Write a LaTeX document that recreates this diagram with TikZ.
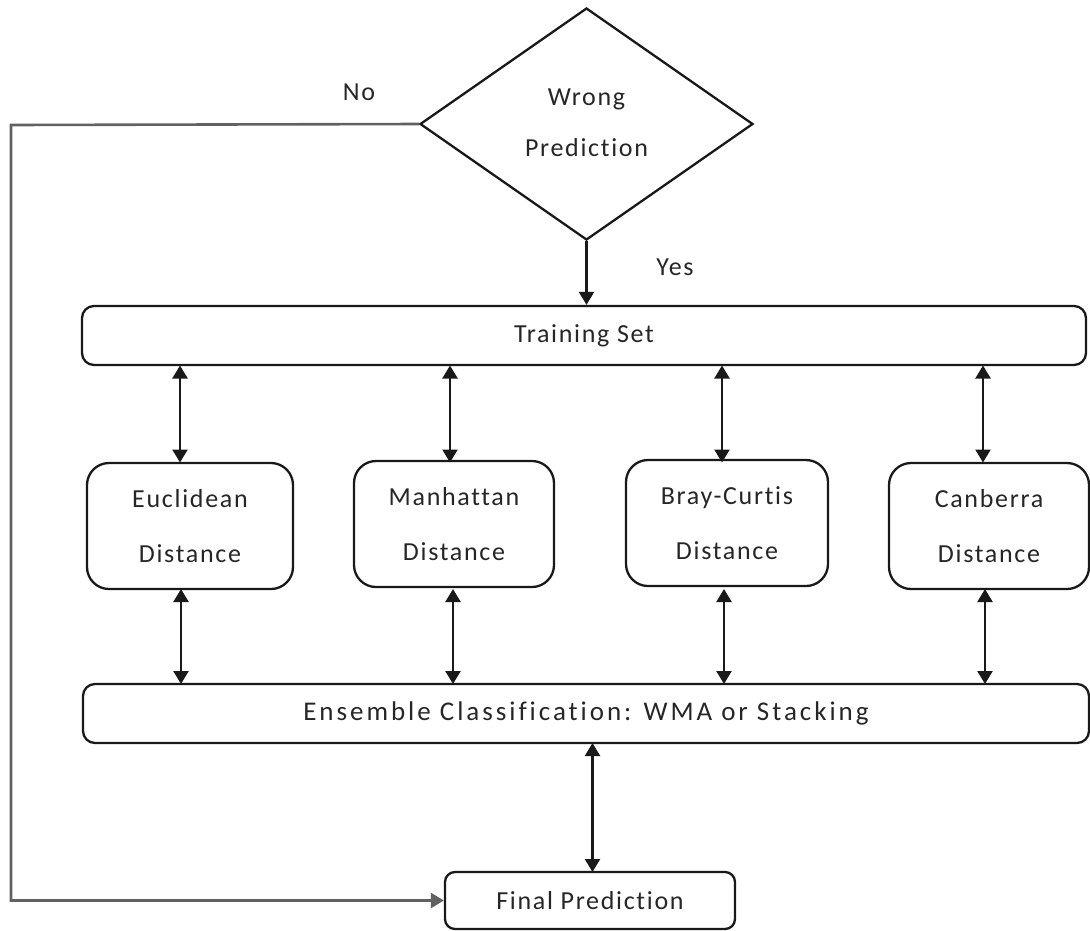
\documentclass[tikz,border=0pt]{standalone}
\usepackage{fontspec}
\setmainfont{Carlito}[LetterSpace=6.5, Ligatures={NoCommon}]
\usetikzlibrary{shapes.geometric,arrows.meta}
\begin{document}
\begin{tikzpicture}[x=1pt,y=-1pt,
  every node/.style={font=\fontsize{26}{55}\selectfont, text=black!85},
  ln/.style={line width=2.3pt, draw=black!90},
  tip/.style={-{Triangle[length=13pt,width=15pt]}},
  dtip/.style={{Triangle[length=13pt,width=15pt]}-{Triangle[length=13pt,width=15pt]}},
  wide/.style={ln, draw, rectangle, rounded corners=12pt, inner sep=0pt},
  dist/.style={ln, draw, rectangle, rounded corners=22pt, inner sep=0pt,
    minimum height=126pt, align=center},
  decision/.style={ln, draw, diamond, inner sep=0pt, align=center,
    minimum width=333pt, minimum height=232pt}
]
\useasboundingbox (0,0) rectangle (1090,930);

% decision
\node[decision] (wrong) at (586.5,124) {\raisebox{3pt}{\shortstack{Wrong\\[26pt]Prediction}}};

% boxes
\node[wide, minimum width=1004pt, minimum height=59pt] (train) at (584,335.5) {Training Set};
\node[dist, minimum width=206pt] (euc) at (190,526) {Euclidean\\Distance};
\node[dist, minimum width=200pt] (man) at (454,524) {Manhattan\\Distance};
\node[dist, minimum width=202pt] (bray) at (727,523) {Bray-Curtis\\Distance};
\node[dist, minimum width=200pt] (can) at (989,526) {Canberra\\Distance};
\node[wide, minimum width=1006pt, minimum height=59pt] (ens) at (586,713.5)
  {\addfontfeature{LetterSpace=11}\fontsize{27}{55}\selectfont Ensemble Classification: WMA or Stacking};
\node[wide, rounded corners=10pt, minimum width=290pt, minimum height=57pt] (final) at (590,900.5) {Final Prediction};

% labels
\node (no) at (359,92) {No};
\node (yes) at (675,267) {Yes};

% yes branch
\draw[ln, tip] (wrong.south) -- (wrong.south |- train.north);

% no branch
\coordinate (corner) at (11,125);
\draw[tip, line width=2.6pt, draw=black!62] (wrong.west) -- (corner) |- (final.west);

% training set <-> distances
\foreach \n/\x in {euc/180, man/450, bray/722, can/983}{
  \draw[ln, dtip] (\x,365.5) -- (\x,462.5);
}
% distances <-> ensemble
\foreach \n/\x in {euc/181, man/453, bray/724, can/985}{
  \draw[ln, dtip] (\x,589) -- (\x,684);
}
% ensemble <-> final
\draw[ln, dtip] (592.5,743) -- (592.5,872);
\end{tikzpicture}
\end{document}
